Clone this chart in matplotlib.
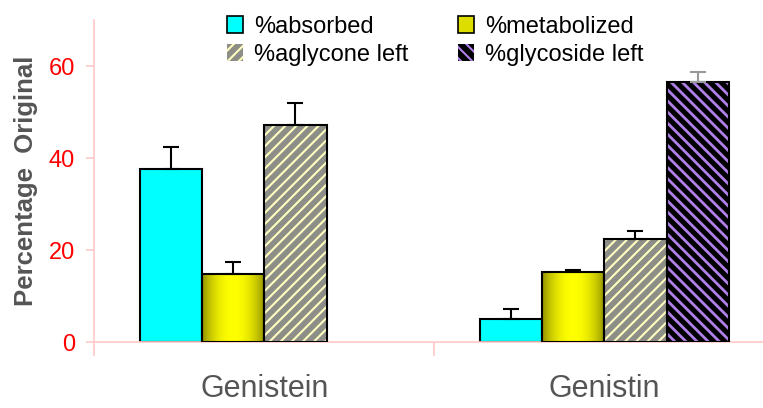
import numpy as np
import matplotlib
matplotlib.use("Agg")
import matplotlib.pyplot as plt
from matplotlib.patches import Patch, Rectangle

plt.rcParams['font.family'] = ['Liberation Sans', 'DejaVu Sans']
plt.rcParams['hatch.linewidth'] = 1.5

categories = ["Genistein", "Genistin"]
series = ["%absorbed", "%metabolized", "%aglycone left", "%glycoside left"]
values = [[37.7, 14.8, 47.3, 0.0],
          [5.1, 15.3, 22.4, 56.6]]
errors = [[4.8, 2.6, 4.6, 0.0],
          [2.2, 0.3, 1.8, 2.2]]

pink = "#ffc8c8"
grey_txt = "#555555"

fig = plt.figure(figsize=(7.63, 4.08), dpi=100)
ax = fig.add_axes([94.3 / 763, 1 - 342.3 / 408, 680 / 763, 322.3 / 408])

width = 0.183
x = np.arange(len(categories))

# cylinder-like shading for the metabolized bars
t = np.linspace(0, 1, 64)
shade = np.clip(np.sin(np.pi * (t * 0.9 + 0.05)) ** 0.6, 0, 1)
grad = np.zeros((1, len(t), 3))
grad[0, :, 0] = 0.35 + 0.65 * shade
grad[0, :, 1] = 0.35 + 0.65 * shade
grad[0, :, 2] = 0.0

for ci in range(len(categories)):
    for si in range(len(series)):
        v = values[ci][si]
        if v <= 0:
            continue
        left = x[ci] - 2 * width + si * width
        cx = left + width / 2
        if si == 0:
            ax.bar(cx, v, width, color="#00ffff", edgecolor="black", linewidth=1.5, zorder=2)
        elif si == 1:
            ax.imshow(grad, extent=(left, left + width, 0, v), aspect="auto", zorder=2)
            ax.add_patch(Rectangle((left, 0), width, v, fill=False, edgecolor="black", linewidth=1.5, zorder=3))
        elif si == 2:
            ax.bar(cx, v, width, color="#8e8e88", edgecolor="#ffffc0", hatch="///", linewidth=0, zorder=2)
            ax.bar(cx, v, width, fill=False, edgecolor="black", linewidth=1.5, zorder=3)
        else:
            with plt.rc_context({'hatch.linewidth': 2.0}):
                ax.bar(cx, v, width, color="black", edgecolor="#b080e8", hatch="\\\\\\", linewidth=0, zorder=2)
            ax.bar(cx, v, width, fill=False, edgecolor="black", linewidth=1.5, zorder=3)
        ecol = "#999999" if si == 3 else "black"
        ax.errorbar(cx, v, yerr=[[0], [errors[ci][si]]], fmt="none", ecolor=ecol,
                    elinewidth=1.5, capsize=6, capthick=1.5, zorder=4)

ax.set_xlim(-0.5, 1.5)
ax.set_ylim(0, 70)

for s in ["top", "right"]:
    ax.spines[s].set_visible(False)
for s in ["left", "bottom"]:
    ax.spines[s].set_color(pink)
    ax.spines[s].set_linewidth(1.2)

ax.set_yticks([0, 20, 40, 60])
ax.tick_params(axis="y", colors=pink, length=6, width=1.2, labelsize=17, labelcolor="red", pad=8)
ax.set_xticks([-0.5, 0.5, 1.5])
ax.set_xticklabels([])
ax.tick_params(axis="x", which="major", colors=pink, length=10, width=1.2)
ax.set_xticks(x, minor=True)
ax.set_xticklabels(categories, minor=True)
ax.tick_params(axis="x", which="minor", length=0, labelsize=22, labelcolor=grey_txt, pad=23)

ax.set_ylabel("Percentage  Original", fontsize=18.5, fontweight="bold", color=grey_txt)
ax.yaxis.set_label_coords(-56 / 680, 0.5)

handles = [
    Patch(facecolor="#00ffff", edgecolor="black", linewidth=1.2),
    Patch(facecolor="#8e8e88", edgecolor="#ffffc0", hatch="///", linewidth=0),
    Patch(facecolor="#dddd00", edgecolor="black", linewidth=1.2),
    Patch(facecolor="black", edgecolor="#b080e8", hatch="\\\\\\", linewidth=0),
]
labels = [series[0], series[2], series[1], series[3]]
fig.legend(handles, labels, ncol=2, loc="upper left", bbox_to_anchor=(215 / 763, 1 - 4 / 408),
           frameon=False, fontsize=17, handlelength=0.7, handleheight=0.7,
           handletextpad=0.45, columnspacing=2.1, labelspacing=0.25, borderpad=0,
           labelcolor="black")

fig.savefig("out.png", dpi=100)
